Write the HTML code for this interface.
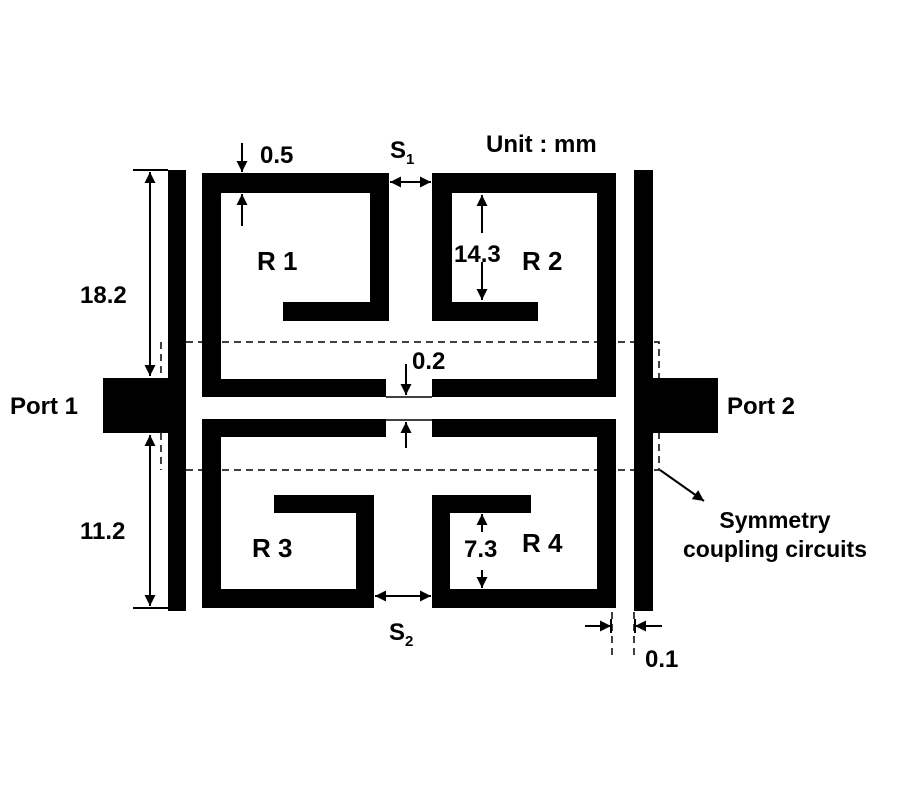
<!DOCTYPE html>
<html><head><meta charset="utf-8"><style>
html,body{margin:0;padding:0;background:#fff}
svg{display:block}
text{font-family:"Liberation Sans",sans-serif;font-weight:bold;fill:#000}
</style></head><body>
<svg width="900" height="800" viewBox="0 0 900 800" xmlns="http://www.w3.org/2000/svg">
<defs>
<marker id="a" viewBox="0 0 10 10" refX="10" refY="5" markerWidth="6" markerHeight="5.5" orient="auto-start-reverse"><path d="M0,0L10,5L0,10z" fill="#000"/></marker>
</defs>
<g fill="#000">
<rect x="168" y="170" width="18" height="441"/>
<rect x="103" y="378" width="83" height="55"/>
<rect x="634" y="170" width="19" height="441"/>
<rect x="634" y="378" width="84" height="55"/>
<rect x="202" y="173" width="187" height="20"/>
<rect x="202" y="173" width="19" height="224"/>
<rect x="370" y="173" width="19" height="148"/>
<rect x="283" y="302" width="106" height="19"/>
<rect x="202" y="379" width="184" height="18"/>
<rect x="432" y="173" width="184" height="20"/>
<rect x="432" y="173" width="20" height="148"/>
<rect x="432" y="302" width="106" height="19"/>
<rect x="597" y="173" width="19" height="224"/>
<rect x="432" y="379" width="184" height="18"/>
<rect x="202" y="419" width="184" height="18"/>
<rect x="202" y="419" width="19" height="189"/>
<rect x="202" y="589" width="172" height="19"/>
<rect x="356" y="495" width="18" height="113"/>
<rect x="274" y="495" width="100" height="18"/>
<rect x="432" y="419" width="184" height="18"/>
<rect x="597" y="419" width="19" height="189"/>
<rect x="432" y="589" width="184" height="19"/>
<rect x="432" y="495" width="18" height="113"/>
<rect x="432" y="495" width="99" height="18"/>
</g>
<g stroke="#000" stroke-width="1.5" stroke-dasharray="7,5" fill="none">
<path d="M186,342H659V378"/>
<path d="M161,342V378"/>
<path d="M186,470H659V433"/>
<path d="M161,433V470"/>
<path d="M612,612V655"/>
<path d="M634,612V655"/>
</g>
<g stroke="#000" stroke-width="2" fill="none">
<path d="M133,170H168M133,608H168"/>
<path d="M150,172V376" marker-start="url(#a)" marker-end="url(#a)"/>
<path d="M150,435V606" marker-start="url(#a)" marker-end="url(#a)"/>
<path d="M242,143V172" marker-end="url(#a)"/>
<path d="M242,226V194" marker-end="url(#a)"/>
<path d="M390,182H431" marker-start="url(#a)" marker-end="url(#a)"/>
<path d="M375,596H431" marker-start="url(#a)" marker-end="url(#a)"/>
<path d="M482,233V195" marker-end="url(#a)"/>
<path d="M482,262V300" marker-end="url(#a)"/>
<path d="M482,532V514" marker-end="url(#a)"/>
<path d="M482,570V588" marker-end="url(#a)"/>
<path d="M386,397H432M386,420H432" stroke-width="1.5"/>
<path d="M406,364V395" marker-end="url(#a)"/>
<path d="M406,448V422" marker-end="url(#a)"/>
<path d="M585,626H611" marker-end="url(#a)"/>
<path d="M662,626H635" marker-end="url(#a)"/>
<path d="M611,619V633M635,619V633"/>
<path d="M660,470L704,501" marker-end="url(#a)"/>
</g>
<text x="10" y="414" font-size="24">Port 1</text>
<text x="727" y="414" font-size="24">Port 2</text>
<text x="486" y="152" font-size="24">Unit : mm</text>
<text x="260" y="163" font-size="24">0.5</text>
<text x="390" y="158" font-size="24">S<tspan font-size="15" dy="6">1</tspan></text>
<text x="389" y="640" font-size="24">S<tspan font-size="15" dy="6">2</tspan></text>
<text x="80" y="303" font-size="24">18.2</text>
<text x="80" y="539" font-size="24">11.2</text>
<text x="257" y="270" font-size="26">R 1</text>
<text x="522" y="270" font-size="26">R 2</text>
<text x="252" y="557" font-size="26">R 3</text>
<text x="522" y="552" font-size="26">R 4</text>
<text x="454" y="262" font-size="24">14.3</text>
<text x="464" y="557" font-size="24">7.3</text>
<text x="412" y="369" font-size="24">0.2</text>
<text x="645" y="667" font-size="24">0.1</text>
<text x="775" y="528" font-size="23" text-anchor="middle">Symmetry</text>
<text x="775" y="557" font-size="23" text-anchor="middle">coupling circuits</text>
</svg>
</body></html>
